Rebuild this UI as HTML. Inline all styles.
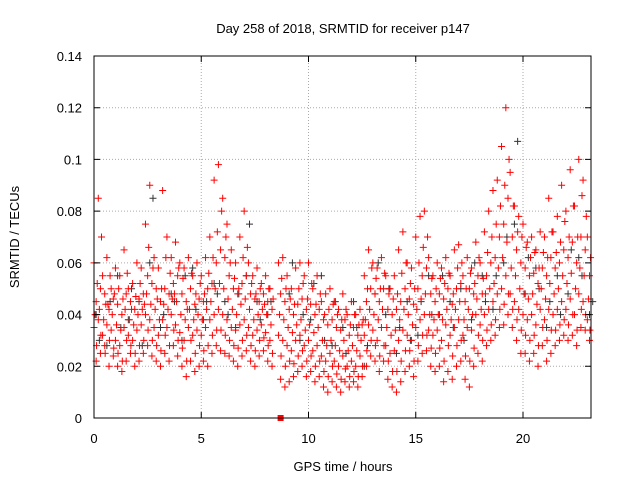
<!DOCTYPE html>
<html><head><meta charset="utf-8"><style>
body{margin:0;background:#fff;width:640px;height:480px;overflow:hidden}
svg{display:block;font-family:"Liberation Sans",sans-serif}
</style></head><body>
<svg id="chart" width="640" height="480" xmlns="http://www.w3.org/2000/svg">
<rect width="640" height="480" fill="#fff"/>
<text x="343" y="33" text-anchor="middle" font-size="13">Day 258 of 2018, SRMTID for receiver p147</text>
<text transform="translate(19,237) rotate(-90)" text-anchor="middle" font-size="13">SRMTID / TECUs</text>
<text x="343" y="471" text-anchor="middle" font-size="13">GPS time / hours</text>
<g id="grid"></g>
<g id="points"></g>
<rect x="94" y="56" width="497" height="362" fill="none" stroke="#000"/>
<g id="ticks"></g>
</svg>
<script>
// values in 1e-3 TECU; red series at t=0.2*i + offset
const s1=[60,85,55,62,50,58,55,65,50,52,60,58,75,90,62,58,88,70,62,68,60,58,62,55,60,55,62,70,92,98,85,75,65,60,70,80,60,55,58,52,55,50,null,60,62,55,50,58,60,55,60,50,55,45,48,50,45,42,48,40,45,40,42,55,65,60,58,62,55,50,55,65,72,60,58,70,78,80,62,55,60,58,62,55,65,67,55,62,58,68,60,72,80,88,92,105,120,95,82,78,75,68,70,65,72,70,85,72,78,90,80,96,82,100,92,70];
const s2=[45,50,48,42,46,44,40,48,45,42,46,48,55,52,50,45,50,48,52,55,48,45,50,44,46,45,50,52,60,65,62,55,50,48,52,55,48,46,45,48,45,42,null,48,45,42,40,44,46,42,44,40,42,38,36,38,35,34,38,32,35,32,36,45,50,48,45,50,42,40,42,45,50,46,44,50,55,58,48,45,48,46,50,44,50,52,45,50,48,55,48,55,60,62,70,75,85,70,65,60,58,55,56,52,58,55,62,58,60,65,62,68,60,70,65,55];
const s3=[35,38,32,36,34,30,28,35,32,30,34,36,40,38,35,32,38,35,40,36,33,30,35,32,34,32,35,38,40,42,40,38,35,34,36,38,35,32,34,36,33,30,null,32,30,28,26,30,32,28,30,26,28,24,22,25,22,20,24,20,22,20,24,32,36,34,30,35,28,25,26,30,34,32,30,35,38,40,34,32,34,30,36,32,35,38,32,35,34,40,36,40,42,45,48,50,55,48,45,42,40,38,40,36,42,38,42,40,42,45,42,46,40,48,45,38];
const s4=[22,25,28,20,24,20,18,22,25,20,22,25,28,24,22,20,25,22,28,24,20,16,22,18,20,22,20,25,28,26,25,24,22,20,24,26,22,20,24,26,22,20,null,15,12,14,16,18,20,16,18,14,16,12,10,14,12,10,14,12,14,12,16,20,24,22,18,22,15,12,10,14,18,20,16,22,25,26,20,18,20,14,18,15,20,22,15,12,20,25,22,28,30,32,35,36,40,35,30,25,25,22,25,20,28,22,25,28,30,32,30,32,28,35,34,30];
const s5=[40,42,38,44,40,36,34,42,38,36,40,42,48,44,42,38,44,42,46,45,40,38,42,38,40,38,42,45,50,52,50,46,42,40,44,46,42,38,40,42,40,36,null,40,38,35,33,36,38,34,36,33,35,30,28,30,28,26,30,26,28,26,30,38,42,40,38,42,35,32,34,38,42,40,36,42,46,48,40,38,40,38,42,38,42,45,38,42,40,46,42,48,50,52,58,62,68,58,55,50,48,46,48,44,50,46,52,48,50,55,52,56,50,58,55,46];
const s6=[52,70,44,55,48,50,46,56,42,47,52,44,66,58,46,50,62,56,48,58,54,42,56,48,52,48,56,62,72,80,70,60,54,50,62,66,52,48,50,44,50,46,null,54,50,46,44,50,52,46,52,44,48,40,42,44,40,38,42,36,40,36,38,50,58,54,50,56,48,46,48,56,60,52,50,60,66,70,54,50,54,52,56,48,58,60,50,56,52,62,54,64,70,75,82,90,100,82,72,70,66,62,64,58,64,62,72,64,68,76,70,82,70,86,78,62];
const s7=[28,32,25,30,27,25,22,30,28,25,28,30,34,30,28,26,32,28,34,30,27,22,30,25,28,26,28,32,34,34,32,30,28,27,30,32,28,26,30,31,28,25,null,24,20,22,21,24,26,22,24,20,22,18,16,20,17,15,19,16,18,16,20,26,30,28,24,28,22,18,18,22,26,26,22,28,32,32,27,25,27,22,28,24,28,30,24,22,27,32,30,34,36,38,42,44,48,42,38,34,32,30,32,28,35,30,34,34,36,38,36,40,34,42,40,34];
// black series at t=0.5*i + offset
const blk=[30,45,35,50,28,85,40,45,55,42,45,48,40,48,75,38,45,null,60,40,52,30,45,25,35,28,60,50,35,30,45,40,55,35,30,60,45,55,70,107,62,50,45,40,65,55,45];
const blk2=[40,28,55,38,45,60,35,48,30,58,38,52,45,35,55,45,40,null,48,30,38,55,28,35,45,20,48,40,25,45,32,55,40,45,50,38,55,42,60,75,48,58,35,55,48,62,40];
const xTicks=[0,5,10,15,20];
const yTicks=[0,0.02,0.04,0.06,0.08,0.1,0.12,0.14];
const yLabels=["0","0.02","0.04","0.06","0.08","0.1","0.12","0.14"];
const X0=94,X1=591,Y0=418,Y1=56,XMAX=23.17,YMAX=0.14;
const sx=t=>X0+(X1-X0)*t/XMAX, sy=v=>Y0-(Y0-Y1)*v/YMAX;
const NS="http://www.w3.org/2000/svg";
function mk(tag,attrs,parent){const e=document.createElementNS(NS,tag);for(const k in attrs)e.setAttribute(k,attrs[k]);parent.appendChild(e);return e;}
const grid=document.getElementById('grid'),ticks=document.getElementById('ticks'),pts=document.getElementById('points');
xTicks.forEach(t=>{const x=sx(t);
 if(t>0){const g=mk('line',{x1:x,x2:x,y1:Y0,y2:Y1,stroke:'#aaa','stroke-dasharray':'1,2'},grid);}
 const tk=mk('path',{d:`M${x},${Y0}v-6M${x},${Y1}v6`,stroke:'#000'},ticks);
 const l=mk('text',{x:x,y:443,'text-anchor':'middle','font-size':'13'},ticks);l.textContent=t;});
yTicks.forEach((v,i)=>{const y=sy(v);
 if(v>0&&v<YMAX){const g=mk('line',{x1:X0,x2:X1,y1:y,y2:y,stroke:'#aaa','stroke-dasharray':'1,2'},grid);}
 const tk=mk('path',{d:`M${X0},${y}h6M${X1},${y}h-6`,stroke:'#000'},ticks);
 const l=mk('text',{x:82,y:y+5,'text-anchor':'end','font-size':'13'},ticks);l.textContent=yLabels[i];});
function cross(t,v,col){if(v==null)return;const x=sx(t),y=sy(v/1000);
 const p=mk('path',{d:`M${x-3.5},${y}h7M${x},${y-3.5}v7`,stroke:col,'stroke-width':'1'},pts);
 
 }
blk.forEach((v,i)=>cross(i*0.5+0.25,v,'#333'));
blk2.forEach((v,i)=>cross(i*0.5+0.1,v,'#333'));
[[s1,0],[s2,0.1],[s3,0],[s4,0.1],[s5,0.05],[s6,0.15],[s7,0.12]].forEach(([arr,off])=>arr.forEach((v,i)=>cross(i*0.2+off,v,'#f00')));
const sq=mk('rect',{x:sx(8.7)-3,y:Y0-3,width:6,height:6,fill:'#f00'},pts);


</script>
</body></html>
